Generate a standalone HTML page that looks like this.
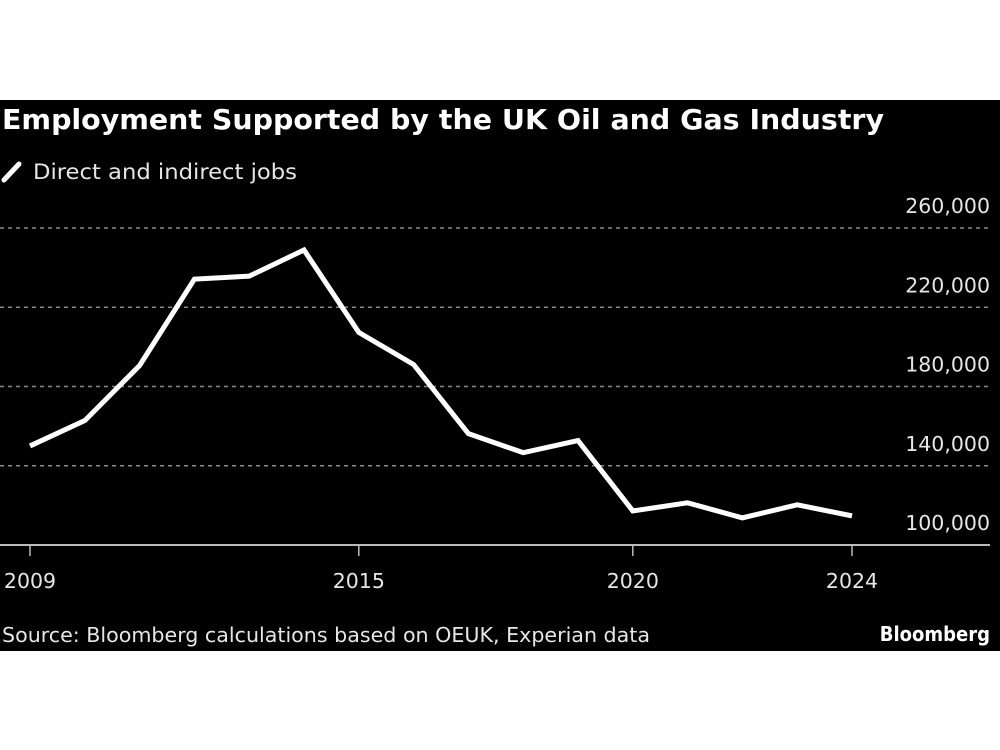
<!DOCTYPE html>
<html><head><meta charset="utf-8"><style>
html,body{margin:0;padding:0;background:#fff;width:1000px;height:750px;overflow:hidden}
svg{display:block}
text{font-family:"DejaVu Sans Condensed","DejaVu Sans","Liberation Sans",sans-serif}
.tk{font-family:"DejaVu Sans","Liberation Sans",sans-serif}
</style></head><body>
<svg width="1000" height="750">
<rect x="0" y="100" width="1000" height="551" fill="#000"/>
<text x="2" y="129" fill="#fff" font-size="28" font-weight="bold" textLength="882" lengthAdjust="spacingAndGlyphs">Employment Supported by the UK Oil and Gas Industry</text>
<g>
<line x1="4" y1="180" x2="19" y2="164" stroke="#fff" stroke-width="5" stroke-linecap="round"/>
<text x="33" y="179" fill="#e6e6e6" font-size="21" textLength="264" lengthAdjust="spacingAndGlyphs">Direct and indirect jobs</text>
</g>
<g id="grid"></g><g id="yl"></g><g id="xa"></g>
<path id="ln" fill="none" stroke="#fff" stroke-width="5" stroke-linejoin="miter"/>
<text x="2" y="642" fill="#e6e6e6" font-size="20" textLength="648" lengthAdjust="spacingAndGlyphs">Source: Bloomberg calculations based on OEUK, Experian data</text>
<text x="990" y="641" fill="#fff" font-size="20" font-weight="bold" text-anchor="end">Bloomberg</text>
</svg>
<script>
const years=[2009,2010,2011,2012,2013,2014,2015,2016,2017,2018,2019,2020,2021,2022,2023,2024];
const jobs=[150000,162800,190600,234200,235700,248900,207300,191100,156200,146600,152700,117200,121300,113700,120300,114700];
const yTicks=[100000,140000,180000,220000,260000];
const yTickLabels=["100,000","140,000","180,000","220,000","260,000"];
const xTicks=[2009,2015,2020,2024];
const NS="http://www.w3.org/2000/svg";
function x(v){return 30+(v-2009)*(852-30)/15;}
function y(v){return 545-(v-100000)*(545-228)/160000;}
function mk(t,a,p){const e=document.createElementNS(NS,t);for(const k in a)e.setAttribute(k,a[k]);p.appendChild(e);return e;}
const g=document.getElementById('grid'),yl=document.getElementById('yl'),xa=document.getElementById('xa');
yTicks.forEach((t,i)=>{
  if(i>0){const l=mk('line',{x1:0,x2:990,y1:y(t),y2:y(t),stroke:'#8a8a8a','stroke-width':1.5,'stroke-dasharray':'4,4'},g);
  
  }
  const tx=mk('text',{x:990,y:y(t)-15,fill:'#e6e6e6','font-size':20.5,'text-anchor':'end','class':'tk'},yl);
  tx.textContent=yTickLabels[i];
  
  
});
const ax=mk('line',{x1:0,x2:990,y1:545,y2:545,stroke:'#bbb','stroke-width':2},xa);


xTicks.forEach(t=>{
  const tk=mk('line',{x1:x(t),x2:x(t),y1:545,y2:556,stroke:'#bbb','stroke-width':1.5},xa);
  
  
  const tx=mk('text',{x:x(t),y:588,fill:'#e6e6e6','font-size':20.5,'text-anchor':'middle','class':'tk'},xa);
  tx.textContent=t;
  
  
});
document.getElementById('ln').setAttribute('d',years.map((yr,i)=>(i?'L':'M')+x(yr)+','+y(jobs[i])).join(' '));
</script>
</body></html>
